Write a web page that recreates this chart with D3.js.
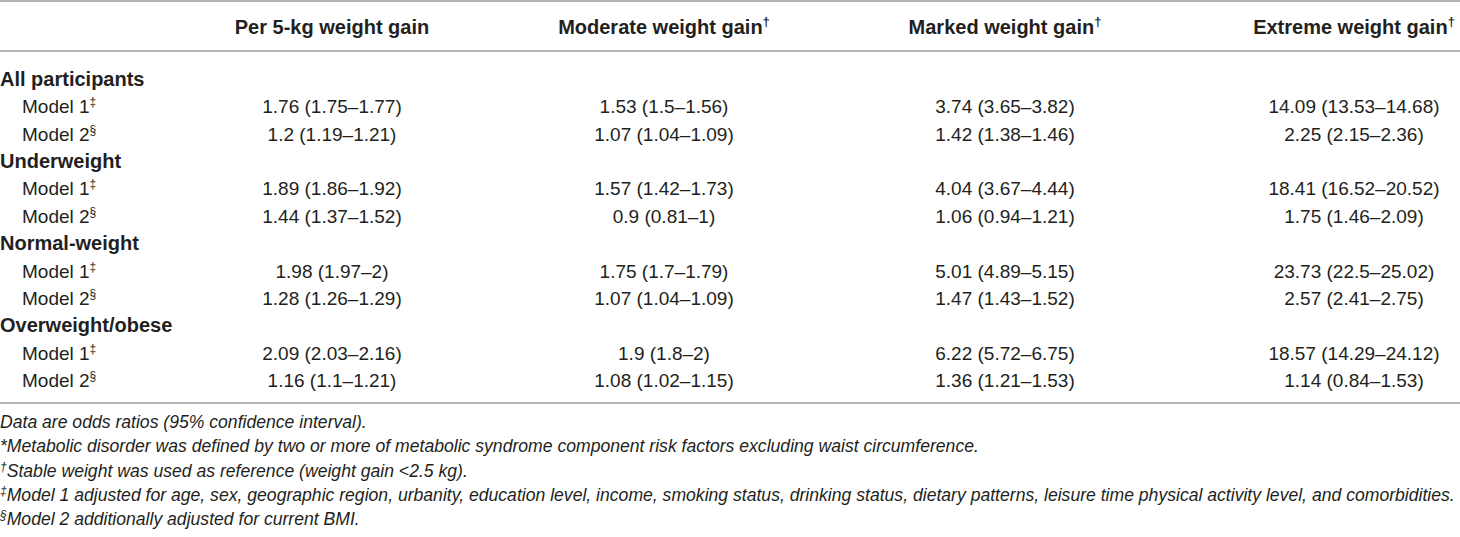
<!DOCTYPE html>
<html>
<head>
<meta charset="utf-8">
<script src="https://cdn.jsdelivr.net/npm/d3@7"></script>
<style>
  body { margin: 0; background: #fff; }
  svg { display: block; }
  text { font-family: "Liberation Sans", Arial, sans-serif; fill: #231f20; }
</style>
</head>
<body>
<svg id="table"></svg>
<script>
// column headers and their footnote marks
var columns = ["Per 5-kg weight gain", "Moderate weight gain", "Marked weight gain", "Extreme weight gain"];
var columnMarks = ["", "\u2020", "\u2020", "\u2020"];

var groups = ["All participants", "Underweight", "Normal-weight", "Overweight/obese"];
var models = ["Model 1", "Model 2"];
var modelMarks = ["\u2021", "\u00a7"];

// odds ratios (95% CI), one array per group and model
var allModel1 = ["1.76 (1.75\u20131.77)", "1.53 (1.5\u20131.56)", "3.74 (3.65\u20133.82)", "14.09 (13.53\u201314.68)"];
var allModel2 = ["1.2 (1.19\u20131.21)", "1.07 (1.04\u20131.09)", "1.42 (1.38\u20131.46)", "2.25 (2.15\u20132.36)"];
var underModel1 = ["1.89 (1.86\u20131.92)", "1.57 (1.42\u20131.73)", "4.04 (3.67\u20134.44)", "18.41 (16.52\u201320.52)"];
var underModel2 = ["1.44 (1.37\u20131.52)", "0.9 (0.81\u20131)", "1.06 (0.94\u20131.21)", "1.75 (1.46\u20132.09)"];
var normalModel1 = ["1.98 (1.97\u20132)", "1.75 (1.7\u20131.79)", "5.01 (4.89\u20135.15)", "23.73 (22.5\u201325.02)"];
var normalModel2 = ["1.28 (1.26\u20131.29)", "1.07 (1.04\u20131.09)", "1.47 (1.43\u20131.52)", "2.57 (2.41\u20132.75)"];
var overModel1 = ["2.09 (2.03\u20132.16)", "1.9 (1.8\u20132)", "6.22 (5.72\u20136.75)", "18.57 (14.29\u201324.12)"];
var overModel2 = ["1.16 (1.1\u20131.21)", "1.08 (1.02\u20131.15)", "1.36 (1.21\u20131.53)", "1.14 (0.84\u20131.53)"];

var groupValues = [[allModel1, allModel2], [underModel1, underModel2], [normalModel1, normalModel2], [overModel1, overModel2]];

var footMarks = ["", "*", "\u2020", "\u2021", "\u00a7"];
var footTexts = [
    "Data are odds ratios (95% confidence interval).",
    "Metabolic disorder was defined by two or more of metabolic syndrome component risk factors excluding waist circumference.",
    "Stable weight was used as reference (weight gain <2.5 kg).",
    "Model 1 adjusted for age, sex, geographic region, urbanity, education level, income, smoking status, drinking status, dietary patterns, leisure time physical activity level, and comorbidities.",
    "Model 2 additionally adjusted for current BMI."
];

function drawTable() {
    var width = 1460, height = 537;
    var svg = d3.select("#table").attr("width", width).attr("height", height);

    // flatten rows: group row then its model rows
    var rows = [];
    groups.forEach(function(g, gi) {
        rows.push({type: "group", label: g});
        models.forEach(function(m, mi) {
            rows.push({type: "model", label: m, mark: modelMarks[mi], values: groupValues[gi][mi]});
        });
    });

    var x = d3.scaleOrdinal()
        .domain(columns)
        .range([332, 664, 1005, 1354]);

    var y = d3.scaleLinear()
        .domain([0, rows.length - 1])
        .range([79, 380]);

    var fy = d3.scaleLinear()
        .domain([0, footTexts.length - 1])
        .range([422, 519]);

    // rules
    svg.append("g")
        .selectAll("line")
        .data([1, 51, 403])
        .enter()
        .append("line")
            .attr("x1", 0)
            .attr("x2", width)
            .attr("y1", function(d) { return d; })
            .attr("y2", function(d) { return d; })
            .attr("stroke", "#9a9a9a")
            .attr("stroke-width", 1.6);

    // header
    var head = svg.append("g")
        .selectAll("text")
        .data(columns)
        .enter()
        .append("text")
            .attr("x", function(d) { return x(d); })
            .attr("y", 34)
            .attr("text-anchor", "middle")
            .attr("font-size", 20)
            .attr("font-weight", "bold");
    head.append("tspan").text(function(d) { return d; });
    head.append("tspan")
        .attr("font-size", 13)
        .attr("dy", -8)
        .text(function(d, i) { return columnMarks[i]; });

    // body rows
    var row = svg.append("g")
        .selectAll("g")
        .data(rows)
        .enter()
        .append("g")
            .attr("transform", function(d, i) { return "translate(0," + (y(i) + 7) + ")"; });

    var label = row.append("text")
        .attr("x", function(d) { return d.type == "group" ? 0 : 22; })
        .attr("font-size", function(d) { return d.type == "group" ? 20 : 19; })
        .attr("font-weight", function(d) { return d.type == "group" ? "bold" : "normal"; });
    label.append("tspan").text(function(d) { return d.label; });
    label.append("tspan")
        .attr("font-size", 12)
        .attr("dy", -7)
        .text(function(d) { return d.mark || ""; });

    row.filter(function(d) { return d.type == "model"; })
        .selectAll("text.val")
        .data(function(d) { return d.values; })
        .enter()
        .append("text")
            .attr("class", "val")
            .attr("x", function(d, i) { return x(columns[i]); })
            .attr("text-anchor", "middle")
            .attr("font-size", 19)
            .text(function(d) { return d; });

    // footnotes
    var foot = svg.append("g")
        .selectAll("text")
        .data(footTexts)
        .enter()
        .append("text")
            .attr("x", 0)
            .attr("y", function(d, i) { return fy(i) + 6; })
            .attr("font-size", 17.6)
            .attr("font-style", "italic");
    foot.append("tspan")
        .attr("font-size", function(d, i) { return i < 2 ? 17.6 : 12; })
        .attr("dy", function(d, i) { return i < 2 ? 0 : -6; })
        .text(function(d, i) { return footMarks[i]; });
    foot.append("tspan")
        .attr("dy", function(d, i) { return i < 2 ? 0 : 6; })
        .text(function(d) { return d; });
}

drawTable();
</script>
</body>
</html>
